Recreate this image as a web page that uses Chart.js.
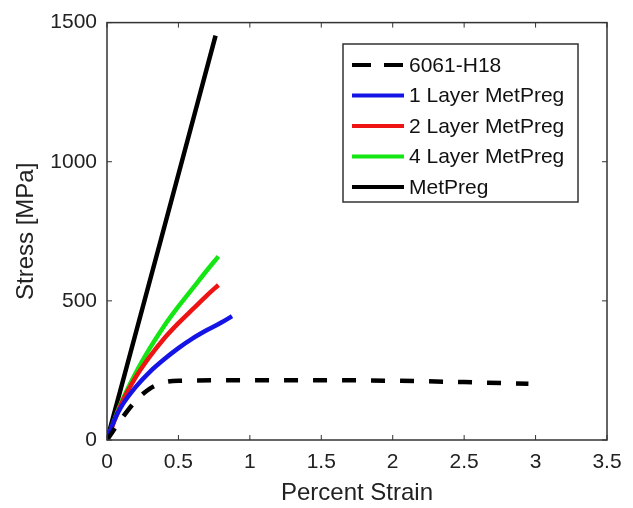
<!DOCTYPE html>
<html>
<head>
<meta charset="utf-8">
<script src="https://cdn.jsdelivr.net/npm/chart.js@4.4.1/dist/chart.umd.min.js"></script>
<style>
  body { margin: 0; background: #fff; }
  canvas { display: block; }
</style>
</head>
<body>
<canvas id="chart" width="633" height="508"></canvas>
<script>
// Stress-strain data
const seriesNames = ["6061-H18", "1 Layer MetPreg", "2 Layer MetPreg", "4 Layer MetPreg", "MetPreg"];

const alStrain = [0, 0.1, 0.2, 0.3, 0.4, 0.5, 1.0, 1.5, 2.0, 2.5, 2.95];
const alStress = [0, 75, 140, 185, 207, 213, 215, 215, 213, 208, 202];

const oneStrain = [0, 0.05, 0.1, 0.2, 0.3, 0.4, 0.5, 0.6, 0.7, 0.8, 0.875];
const oneStress = [0, 70, 120, 190, 245, 290, 330, 365, 395, 422, 445];

const twoStrain = [0, 0.1, 0.2, 0.3, 0.4, 0.5, 0.6, 0.7, 0.78];
const twoStress = [0, 130, 225, 300, 365, 420, 470, 520, 557];

const fourStrain = [0, 0.1, 0.2, 0.3, 0.4, 0.5, 0.6, 0.7, 0.78];
const fourStress = [0, 135, 240, 330, 410, 480, 545, 610, 660];

const metStrain = [0, 0.38, 0.76];
const metStress = [0, 725, 1453];

const xTickLabels = ["0", "0.5", "1", "1.5", "2", "2.5", "3", "3.5"];
const yTickLabels = ["0", "500", "1000", "1500"];

const colors = ["#000000", "#1414e6", "#ee1414", "#14e614", "#000000"];

const toPoints = (xs, ys) => xs.map((x, i) => ({ x: x, y: ys[i] }));
const curves = [
  toPoints(alStrain, alStress),
  toPoints(oneStrain, oneStress),
  toPoints(twoStrain, twoStress),
  toPoints(fourStrain, fourStress),
  toPoints(metStrain, metStress),
];

const FONT = "'Liberation Sans', Arial, sans-serif";

// frame with inward ticks on all four sides (matlab style)
const framePlugin = {
  id: "frame",
  afterDatasetsDraw(chart) {
    const { ctx, chartArea: a, scales } = chart;
    ctx.save();
    ctx.strokeStyle = "#333";
    ctx.lineWidth = 1.5;
    ctx.strokeRect(a.left, a.top, a.right - a.left, a.bottom - a.top);
    ctx.lineWidth = 1;
    const len = 5;
    scales.x.ticks.forEach(t => {
      const px = scales.x.getPixelForValue(t.value);
      ctx.beginPath();
      ctx.moveTo(px, a.bottom); ctx.lineTo(px, a.bottom - len);
      ctx.moveTo(px, a.top); ctx.lineTo(px, a.top + len);
      ctx.stroke();
    });
    scales.y.ticks.forEach(t => {
      const py = scales.y.getPixelForValue(t.value);
      ctx.beginPath();
      ctx.moveTo(a.left, py); ctx.lineTo(a.left + len, py);
      ctx.moveTo(a.right, py); ctx.lineTo(a.right - len, py);
      ctx.stroke();
    });
    ctx.restore();
  }
};

// legend box drawn inside the plot, upper right
const boxLegend = {
  id: "boxLegend",
  afterDraw(chart) {
    const { ctx } = chart;
    const x0 = 343, y0 = 44, w = 235, h = 158;
    ctx.save();
    ctx.fillStyle = "#fff";
    ctx.fillRect(x0, y0, w, h);
    ctx.strokeStyle = "#333";
    ctx.lineWidth = 1.5;
    ctx.strokeRect(x0, y0, w, h);
    ctx.font = "21px " + FONT;
    ctx.textBaseline = "middle";
    chart.data.datasets.forEach((ds, i) => {
      const y = 65 + i * 30.5;
      ctx.strokeStyle = ds.borderColor;
      ctx.lineWidth = 4;
      ctx.setLineDash(ds.borderDash && ds.borderDash.length ? [19, 13] : []);
      ctx.beginPath();
      ctx.moveTo(352, y);
      ctx.lineTo(404, y);
      ctx.stroke();
      ctx.setLineDash([]);
      ctx.fillStyle = "#111";
      ctx.fillText(ds.label, 409, y + 1);
    });
    ctx.restore();
  }
};

new Chart(document.getElementById("chart"), {
  type: "scatter",
  data: {
    datasets: curves.map((pts, i) => ({
      label: seriesNames[i],
      data: pts,
      showLine: true,
      borderColor: colors[i],
      borderWidth: 4.5,
      borderDash: i === 0 ? [14, 15] : [],
      pointRadius: 0,
      cubicInterpolationMode: "monotone",
      fill: false,
    })),
  },
  options: {
    responsive: false,
    animation: false,
    layout: { padding: { left: 0, top: 20, right: 26, bottom: 0 } },
    plugins: { legend: { display: false }, tooltip: { enabled: false } },
    scales: {
      x: {
        type: "linear",
        min: 0, max: 3.5,
        afterFit(s) { s.height = 68; },
        grid: { display: false, drawTicks: false },
        border: { display: false },
        ticks: {
          stepSize: 0.5,
          padding: 10,
          color: "#222",
          font: { family: FONT, size: 21 },
          callback: (v, i) => xTickLabels[i],
        },
        title: {
          display: true, text: "Percent Strain", color: "#222",
          font: { family: FONT, size: 24 }, padding: { top: 0, bottom: 0 },
        },
      },
      y: {
        type: "linear",
        min: 0, max: 1500,
        afterFit(s) { s.width = 107; },
        grid: { display: false, drawTicks: false },
        border: { display: false },
        ticks: {
          stepSize: 500,
          padding: 10,
          color: "#222",
          font: { family: FONT, size: 21 },
          callback: (v, i) => yTickLabels[i],
        },
        title: {
          display: true, text: "Stress [MPa]", color: "#222",
          font: { family: FONT, size: 24 }, padding: { top: 12, bottom: 0 },
        },
      },
    },
  },
  plugins: [framePlugin, boxLegend],
});
</script>
</body>
</html>
